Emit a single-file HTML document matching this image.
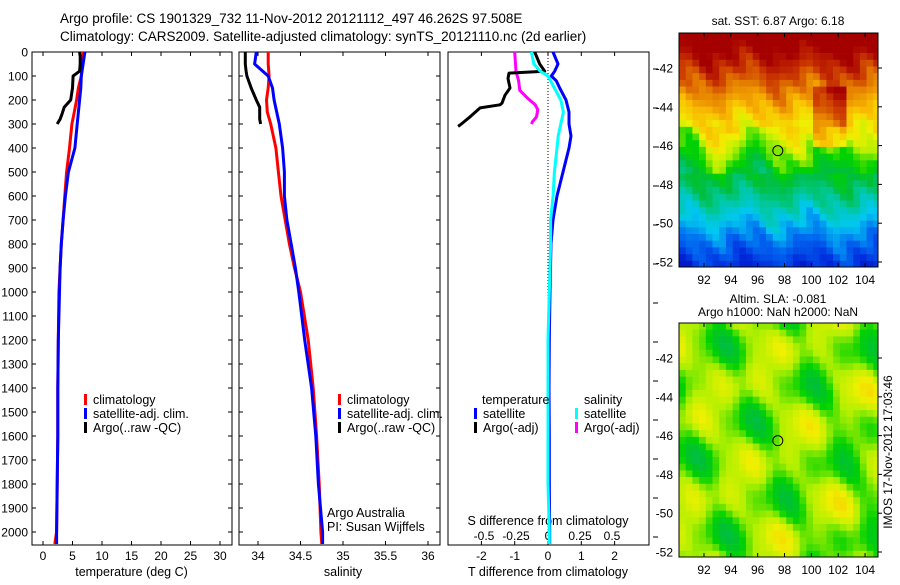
<!DOCTYPE html>
<html><head><meta charset="utf-8"><style>
html,body{margin:0;padding:0;background:#fff;}
svg text{font-family:"Liberation Sans",sans-serif;fill:#000;}
</style></head><body>
<svg id="chart" width="900" height="580" xmlns="http://www.w3.org/2000/svg">
<text x="60" y="23" font-size="13.5">Argo profile: CS 1901329_732 11-Nov-2012 20121112_497 46.262S 97.508E</text>
<text x="60" y="41" font-size="13.5">Climatology: CARS2009. Satellite-adjusted climatology: synTS_20121110.nc (2d earlier)</text>
<g id="g"></g>
</svg>
<script>
// ---- data (depth in m) ----
const depths = [0,50,100,150,200,250,300,400,500,600,700,800,900,1000,1200,1400,1600,1800,2000,2050];
const climT  = [6.8,6.7,6.5,6.0,5.7,5.3,4.9,4.5,4.0,3.7,3.4,3.1,2.9,2.7,2.6,2.5,2.5,2.4,2.3,2.0];
const satT   = [7.1,6.8,6.5,6.4,6.2,6.0,5.8,5.4,4.3,3.8,3.4,3.1,2.9,2.8,2.6,2.5,2.5,2.4,2.3,2.3];
const climS  = [34.12,34.12,34.13,34.12,34.10,34.11,34.15,34.21,34.24,34.27,34.32,34.37,34.43,34.50,34.59,34.65,34.69,34.72,34.74,34.75];
const satS   = [33.98,33.96,34.12,34.17,34.19,34.22,34.25,34.29,34.31,34.31,34.34,34.39,34.44,34.48,34.55,34.63,34.68,34.71,34.76,34.76];
const argoDepths = [0,20,50,80,100,150,200,230,260,280,300];
const argoT = [6.2,6.3,6.3,6.2,5.1,5.0,4.7,3.6,3.2,2.9,2.4];
const argoS = [33.85,33.85,33.85,33.86,33.87,33.92,33.98,34.02,34.02,34.02,34.03];
const diffDepths = [0,50,80,100,120,150,200,250,300,350,400,500,600,700,800,1000,1200,1400,1600,1800,2000,2050];
const satTdiff = [0.15,0.3,0.2,0.1,0.25,0.35,0.54,0.63,0.63,0.69,0.63,0.45,0.27,0.15,0.09,0.06,0.04,0.03,0.04,0.04,0.05,0.05];
const satSdiff = [-0.13,-0.11,-0.06,0.0,0.02,0.05,0.10,0.12,0.10,0.08,0.07,0.05,0.04,0.02,0.02,0.01,0.0,0.0,0.0,0.0,0.01,0.01];
const argoDiffDepths = [0,50,80,88,110,150,180,213,220,233,270,304,310];
const argoTdiff = [-0.4,-0.25,-0.1,-1.17,-1.2,-1.14,-1.29,-1.38,-1.44,-2.04,-2.34,-2.64,-2.7];
const argoSdiffDepths = [0,80,120,160,192,220,240,270,290,300];
const argoSdiff = [-0.26,-0.25,-0.23,-0.22,-0.16,-0.10,-0.08,-0.09,-0.12,-0.13];
const depthTicks = [0,100,200,300,400,500,600,700,800,900,1000,1100,1200,1300,1400,1500,1600,1700,1800,1900,2000];
const tTicks = [0,5,10,15,20,25,30];
const sTicks = [34,34.5,35,35.5,36];
const sTickLabels = ["34","34.5","35","35.5","36"];
const dTTicks = [-2,-1,0,1,2];
const dSTicks = [-0.5,-0.25,0,0.25,0.5];
const dSTickLabels = ["-0.5","-0.25","0","0.25","0.5"];
const lonTicks = [92,94,96,98,100,102,104];
const latTicks = [-42,-44,-46,-48,-50,-52];

// ---- axes functions ----
const yD = d => 52 + d*0.24;
const xT = t => 43 + t*5.9;
const xS = s => 258 + (s-34)*85;
const xDT = v => 548 + v*33.3;
const xDS = v => 548 + v*128;
const xLon = l => 704 + (l-92)*13.42;
const yLat = (l,off) => 68 + off + (-42-l)*19.4;

const NS="http://www.w3.org/2000/svg";
const g=document.getElementById('g');
function mk(tag,attrs,parent){const e=document.createElementNS(NS,tag);for(const k in attrs)e.setAttribute(k,attrs[k]);(parent||g).appendChild(e);return e;}
function txt(x,y,s,size,anchor,parent){const t=mk('text',{x:x,y:y,'font-size':size||12,'text-anchor':anchor||'start'},parent);t.textContent=s;return t;}

const panels=[[32,232,'temperature-panel'],[239,440,'salinity-panel'],[448,649,'difference-panel']];
panels.forEach(p=>{
  const r=mk('rect',{x:p[0],y:52,width:p[1]-p[0],height:493,fill:'none',stroke:'#000','stroke-width':1});
  
  
  if(p[2]!=='difference-panel'){
    depthTicks.forEach(d=>{mk('line',{x1:p[0],x2:p[0]+4,y1:yD(d),y2:yD(d),stroke:'#000'});mk('line',{x1:p[1]-4,x2:p[1],y1:yD(d),y2:yD(d),stroke:'#000'});});
  }
});
depthTicks.forEach(d=>{const t=txt(28,yD(d)+4.5,String(d),12,'end');
  
  });
tTicks.forEach(v=>{mk('line',{x1:xT(v),x2:xT(v),y1:52,y2:56,stroke:'#000'});mk('line',{x1:xT(v),x2:xT(v),y1:541,y2:545,stroke:'#000'});
  const t=txt(xT(v),560,String(v),12,'middle');
  
  });
sTicks.forEach((v,i)=>{mk('line',{x1:xS(v),x2:xS(v),y1:52,y2:56,stroke:'#000'});mk('line',{x1:xS(v),x2:xS(v),y1:541,y2:545,stroke:'#000'});
  const t=txt(xS(v),560,sTickLabels[i],12,'middle');
  
  });
dTTicks.forEach(v=>{mk('line',{x1:xDT(v),x2:xDT(v),y1:52,y2:56,stroke:'#000'});mk('line',{x1:xDT(v),x2:xDT(v),y1:541,y2:545,stroke:'#000'});
  const t=txt(xDT(v),560,String(v),12,'middle');
  
  });
dSTicks.forEach((v,i)=>{const t=txt(xDS(v),540,dSTickLabels[i],12,'middle');
  
  });
for(let y=69;y<545;y+=39){mk('line',{x1:653,x2:658,y1:y,y2:y,stroke:'#000'});}
const z=mk('line',{x1:xDT(0),x2:xDT(0),y1:52,y2:545,stroke:'#000','stroke-dasharray':'1,2'});



[[xT(15),576,'temperature (deg C)','temperature-axis-title'],[xS(35),576,'salinity','salinity-axis-title'],[548,576,'T difference from climatology','t-difference-axis-title'],[548,525,'S difference from climatology','s-difference-axis-title']].forEach(a=>{
  const t=txt(a[0],a[1],a[2],12.5,'middle');
  
  });

function line(ds,vs,fx,color,name){
  const pts=[];
  for(let i=0;i<ds.length;i++){
    pts.push(fx(vs[i]).toFixed(1)+','+yD(ds[i]).toFixed(1));
  }
  const p=mk('polyline',{points:pts.join(' '),fill:'none',stroke:color,'stroke-width':3,'stroke-linejoin':'round'});
  
  
}
line(depths,climT,xT,'#ff0000','temperature-climatology-line');
line(depths,satT,xT,'#0000ff','temperature-satellite-line');
line(argoDepths,argoT,xT,'#000000','temperature-argo-line');
line(depths,climS,xS,'#ff0000','salinity-climatology-line');
line(depths,satS,xS,'#0000ff','salinity-satellite-line');
line(argoDepths,argoS,xS,'#000000','salinity-argo-line');
line(argoSdiffDepths,argoSdiff,xDS,'#ff00ff','salinity-argo-diff-line');
line(argoDiffDepths,argoTdiff,xDT,'#000000','temperature-argo-diff-line');
line(diffDepths,satTdiff,xDT,'#0000ff','temperature-satellite-diff-line');
line(diffDepths,satSdiff,xDS,'#00ffff','salinity-satellite-diff-line');

function leg(x,y,color,label,name){
  const r=mk('rect',{x:x,y:y-10,width:3,height:11,fill:color});
  
  
  const t=txt(x+9,y,label,12.5);
  
  
}
[[84,'#ff0000','climatology'],[84,'#0000ff','satellite-adj. clim.'],[84,'#000000','Argo(..raw -QC)']].forEach((l,i)=>leg(l[0],404+i*14,l[1],l[2],'legend-temp-'+i));
[[338,'#ff0000','climatology'],[338,'#0000ff','satellite-adj. clim.'],[338,'#000000','Argo(..raw -QC)']].forEach((l,i)=>leg(l[0],404+i*14,l[1],l[2],'legend-sal-'+i));
let t1=txt(482,404,'temperature',12.5);
let t2=txt(584,404,'salinity',12.5);
leg(474,418,'#0000ff','satellite','legend-diff-t-sat');
leg(474,432,'#000000','Argo(-adj)','legend-diff-t-argo');
leg(575,418,'#00ffff','satellite','legend-diff-s-sat');
leg(575,432,'#ff00ff','Argo(-adj)','legend-diff-s-argo');
let a1=txt(327,517,'Argo Australia',12.5);
let a2=txt(327,531,'PI: Susan Wijffels',12.5);

// ---- maps ----
const stops=[[0,[0,0,150]],[0.12,[0,40,220]],[0.22,[0,100,240]],[0.32,[0,200,240]],[0.4,[0,200,150]],[0.48,[0,190,60]],[0.55,[0,210,0]],[0.62,[180,240,0]],[0.68,[240,240,0]],[0.76,[250,190,0]],[0.84,[230,130,0]],[0.92,[200,50,0]],[1,[165,0,0]]];
function cmap(v){v=Math.max(0,Math.min(1,v));for(let i=1;i<stops.length;i++){if(v<=stops[i][0]){const a=stops[i-1],b=stops[i],f=(v-a[0])/(b[0]-a[0]);return 'rgb('+a[1].map((c,k)=>Math.round(c+(b[1][k]-c)*f)).join(',')+')';}}return 'rgb(165,0,0)';}
function sstVal(lon,lat){
  let v=0.15+(lat+52)*0.078;
  v+=0.03*Math.sin(lon*1.3+0.5)+0.025*Math.sin(lon*2.9+lat*1.7)+0.02*Math.cos(lat*3.7+lon*2.3);
  if(lat>-47.5&&lat<-45) v+=0.06*Math.sin((lon-92)*1.1);
  if(lon>100&&lon<102.5&&lat>-46&&lat<-43) v+=0.12;
  return v;
}
function slaVal(lon,lat){
  return 0.6+0.04*Math.sin(lon*1.1+lat*0.7)+0.04*Math.cos(lat*1.3-lon*0.6)-0.03*Math.sin(lon*0.7+lat*1.9+2)+0.02*Math.sin(lon*2.3+lat*1.3);
}
function drawMap(off,fn,name,title1,title2){
  const mg=mk('g',{});
  
  
  const x0=679,x1=878,y0=33+off,y1=267+off,cs=6.7;
  for(let y=y0;y<y1;y+=cs){for(let x=x0;x<x1;x+=cs){
    const lon=92+(x+cs/2-704)/13.42, lat=-42-(y+cs/2-68-off)/19.4;
    mk('rect',{x:x.toFixed(1),y:y.toFixed(1),width:Math.min(cs+0.3,x1-x).toFixed(1),height:Math.min(cs+0.3,y1-y).toFixed(1),fill:cmap(fn(lon,lat))},mg);
  }}
  mk('rect',{x:x0,y:y0,width:x1-x0,height:y1-y0,fill:'none',stroke:'#000'},mg);
  const c=mk('circle',{cx:xLon(97.5),cy:yLat(-46.26,off),r:5,fill:'none',stroke:'#000','stroke-width':1});
  
  
  lonTicks.forEach(l=>{mk('line',{x1:xLon(l),x2:xLon(l),y1:y0,y2:y0+4,stroke:'#000'});mk('line',{x1:xLon(l),x2:xLon(l),y1:y1,y2:y1-4,stroke:'#000'});
    const t=txt(xLon(l),y1+17,String(l),12,'middle');});
  latTicks.forEach(l=>{mk('line',{x1:x1,x2:x1+4,y1:yLat(l,off),y2:yLat(l,off),stroke:'#000'});
    const t=txt(673,yLat(l,off)+4.5,String(l),12,'end');});
  const a=txt(778,off+(title2?-12:0)+25,title1,12,'middle');
  if(title2){const b=txt(778,off+26,title2,12,'middle');}
}
drawMap(0,sstVal,'sst-map','sat. SST: 6.87 Argo: 6.18');
drawMap(290,slaVal,'sla-map','Altim. SLA: -0.081','Argo h1000: NaN h2000: NaN');
const im=txt(0,0,'IMOS 17-Nov-2012 17:03:46',12,'middle');
im.setAttribute('transform','translate(892,452) rotate(-90)');


</script>
</body></html>
